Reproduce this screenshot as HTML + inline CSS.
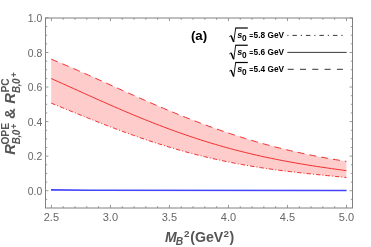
<!DOCTYPE html><html><head><meta charset="utf-8"><style>
html,body{margin:0;padding:0;background:#fff}svg{display:block;will-change:transform}
text{font-family:"Liberation Sans",sans-serif}
</style></head><body>
<svg width="371" height="247" viewBox="0 0 371 247">
<rect width="371" height="247" fill="#fff"/>
<path d="M51.2,59.15 L54.9,60.69 L58.7,62.24 L62.4,63.81 L66.1,65.40 L69.9,67.00 L73.6,68.62 L77.4,70.25 L81.1,71.89 L84.8,73.54 L88.6,75.20 L92.3,76.86 L96.0,78.53 L99.8,80.21 L103.5,81.88 L107.3,83.56 L111.0,85.24 L114.7,86.92 L118.5,88.60 L122.2,90.27 L125.9,91.94 L129.7,93.61 L133.4,95.27 L137.1,96.92 L140.9,98.57 L144.6,100.21 L148.4,101.83 L152.1,103.45 L155.8,105.06 L159.6,106.65 L163.3,108.23 L167.0,109.80 L170.8,111.35 L174.5,112.89 L178.2,114.42 L182.0,115.92 L185.7,117.41 L189.5,118.88 L193.2,120.34 L196.9,121.77 L200.7,123.19 L204.4,124.59 L208.1,125.96 L211.9,127.32 L215.6,128.66 L219.4,129.97 L223.1,131.26 L226.8,132.53 L230.6,133.78 L234.3,135.01 L238.0,136.22 L241.8,137.40 L245.5,138.56 L249.2,139.69 L253.0,140.81 L256.7,141.90 L260.5,142.96 L264.2,144.01 L267.9,145.03 L271.7,146.02 L275.4,147.00 L279.1,147.95 L282.9,148.87 L286.6,149.78 L290.3,150.66 L294.1,151.52 L297.8,152.36 L301.6,153.17 L305.3,153.97 L309.0,154.74 L312.8,155.49 L316.5,156.23 L320.2,156.94 L324.0,157.63 L327.7,158.30 L331.5,158.95 L335.2,159.59 L338.9,160.20 L342.7,160.80 L346.4,161.39 L346.4,177.52 L342.7,177.14 L338.9,176.76 L335.2,176.38 L331.5,176.01 L327.7,175.64 L324.0,175.26 L320.2,174.88 L316.5,174.50 L312.8,174.12 L309.0,173.72 L305.3,173.33 L301.6,172.92 L297.8,172.50 L294.1,172.07 L290.3,171.63 L286.6,171.18 L282.9,170.71 L279.1,170.23 L275.4,169.74 L271.7,169.23 L267.9,168.70 L264.2,168.16 L260.5,167.59 L256.7,167.01 L253.0,166.41 L249.2,165.79 L245.5,165.15 L241.8,164.49 L238.0,163.81 L234.3,163.10 L230.6,162.37 L226.8,161.62 L223.1,160.85 L219.4,160.06 L215.6,159.24 L211.9,158.40 L208.1,157.53 L204.4,156.64 L200.7,155.73 L196.9,154.79 L193.2,153.83 L189.5,152.84 L185.7,151.83 L182.0,150.80 L178.2,149.74 L174.5,148.66 L170.8,147.56 L167.0,146.43 L163.3,145.28 L159.6,144.11 L155.8,142.92 L152.1,141.70 L148.4,140.46 L144.6,139.20 L140.9,137.93 L137.1,136.63 L133.4,135.31 L129.7,133.97 L125.9,132.62 L122.2,131.25 L118.5,129.86 L114.7,128.46 L111.0,127.04 L107.3,125.61 L103.5,124.16 L99.8,122.70 L96.0,121.23 L92.3,119.75 L88.6,118.27 L84.8,116.77 L81.1,115.26 L77.4,113.75 L73.6,112.24 L69.9,110.72 L66.1,109.20 L62.4,107.67 L58.7,106.15 L54.9,104.63 L51.2,103.11Z" fill="#ffcccc" stroke="none"/>
<path d="M51.2,59.15 L54.9,60.69 L58.7,62.24 L62.4,63.81 L66.1,65.40 L69.9,67.00 L73.6,68.62 L77.4,70.25 L81.1,71.89 L84.8,73.54 L88.6,75.20 L92.3,76.86 L96.0,78.53 L99.8,80.21 L103.5,81.88 L107.3,83.56 L111.0,85.24 L114.7,86.92 L118.5,88.60 L122.2,90.27 L125.9,91.94 L129.7,93.61 L133.4,95.27 L137.1,96.92 L140.9,98.57 L144.6,100.21 L148.4,101.83 L152.1,103.45 L155.8,105.06 L159.6,106.65 L163.3,108.23 L167.0,109.80 L170.8,111.35 L174.5,112.89 L178.2,114.42 L182.0,115.92 L185.7,117.41 L189.5,118.88 L193.2,120.34 L196.9,121.77 L200.7,123.19 L204.4,124.59 L208.1,125.96 L211.9,127.32 L215.6,128.66 L219.4,129.97 L223.1,131.26 L226.8,132.53 L230.6,133.78 L234.3,135.01 L238.0,136.22 L241.8,137.40 L245.5,138.56 L249.2,139.69 L253.0,140.81 L256.7,141.90 L260.5,142.96 L264.2,144.01 L267.9,145.03 L271.7,146.02 L275.4,147.00 L279.1,147.95 L282.9,148.87 L286.6,149.78 L290.3,150.66 L294.1,151.52 L297.8,152.36 L301.6,153.17 L305.3,153.97 L309.0,154.74 L312.8,155.49 L316.5,156.23 L320.2,156.94 L324.0,157.63 L327.7,158.30 L331.5,158.95 L335.2,159.59 L338.9,160.20 L342.7,160.80 L346.4,161.39" fill="none" stroke="#f03030" stroke-width="1" stroke-dasharray="7,5"/>
<path d="M51.2,103.11 L54.9,104.63 L58.7,106.15 L62.4,107.67 L66.1,109.20 L69.9,110.72 L73.6,112.24 L77.4,113.75 L81.1,115.26 L84.8,116.77 L88.6,118.27 L92.3,119.75 L96.0,121.23 L99.8,122.70 L103.5,124.16 L107.3,125.61 L111.0,127.04 L114.7,128.46 L118.5,129.86 L122.2,131.25 L125.9,132.62 L129.7,133.97 L133.4,135.31 L137.1,136.63 L140.9,137.93 L144.6,139.20 L148.4,140.46 L152.1,141.70 L155.8,142.92 L159.6,144.11 L163.3,145.28 L167.0,146.43 L170.8,147.56 L174.5,148.66 L178.2,149.74 L182.0,150.80 L185.7,151.83 L189.5,152.84 L193.2,153.83 L196.9,154.79 L200.7,155.73 L204.4,156.64 L208.1,157.53 L211.9,158.40 L215.6,159.24 L219.4,160.06 L223.1,160.85 L226.8,161.62 L230.6,162.37 L234.3,163.10 L238.0,163.81 L241.8,164.49 L245.5,165.15 L249.2,165.79 L253.0,166.41 L256.7,167.01 L260.5,167.59 L264.2,168.16 L267.9,168.70 L271.7,169.23 L275.4,169.74 L279.1,170.23 L282.9,170.71 L286.6,171.18 L290.3,171.63 L294.1,172.07 L297.8,172.50 L301.6,172.92 L305.3,173.33 L309.0,173.72 L312.8,174.12 L316.5,174.50 L320.2,174.88 L324.0,175.26 L327.7,175.64 L331.5,176.01 L335.2,176.38 L338.9,176.76 L342.7,177.14 L346.4,177.52" fill="none" stroke="#f03030" stroke-width="1" stroke-dasharray="4.5,2,1,2"/>
<path d="M51.2,78.55 L54.9,80.21 L58.7,81.88 L62.4,83.56 L66.1,85.24 L69.9,86.93 L73.6,88.62 L77.4,90.30 L81.1,91.99 L84.8,93.68 L88.6,95.36 L92.3,97.03 L96.0,98.71 L99.8,100.37 L103.5,102.03 L107.3,103.68 L111.0,105.32 L114.7,106.95 L118.5,108.56 L122.2,110.17 L125.9,111.76 L129.7,113.34 L133.4,114.91 L137.1,116.45 L140.9,117.99 L144.6,119.50 L148.4,121.00 L152.1,122.48 L155.8,123.95 L159.6,125.39 L163.3,126.81 L167.0,128.22 L170.8,129.60 L174.5,130.96 L178.2,132.30 L182.0,133.62 L185.7,134.92 L189.5,136.19 L193.2,137.44 L196.9,138.67 L200.7,139.88 L204.4,141.06 L208.1,142.22 L211.9,143.36 L215.6,144.47 L219.4,145.56 L223.1,146.63 L226.8,147.67 L230.6,148.69 L234.3,149.69 L238.0,150.66 L241.8,151.61 L245.5,152.54 L249.2,153.45 L253.0,154.33 L256.7,155.19 L260.5,156.03 L264.2,156.85 L267.9,157.65 L271.7,158.43 L275.4,159.19 L279.1,159.93 L282.9,160.65 L286.6,161.35 L290.3,162.03 L294.1,162.70 L297.8,163.35 L301.6,163.98 L305.3,164.60 L309.0,165.21 L312.8,165.80 L316.5,166.38 L320.2,166.95 L324.0,167.51 L327.7,168.05 L331.5,168.59 L335.2,169.12 L338.9,169.64 L342.7,170.16 L346.4,170.67" fill="none" stroke="#f03030" stroke-width="1"/>
<path d="M51,189.9 L90,190.3 L346.6,190.5" fill="none" stroke="#4444fa" stroke-width="1.6"/>
<rect x="45.5" y="18.0" width="307.0" height="190.0" fill="none" stroke="#808080" stroke-width="1"/>
<g stroke="#808080" stroke-width="0.8" fill="none"><path d="M51.40,208.0 v-3.1 M51.40,18.0 v3.1"/><path d="M63.20,208.0 v-1.8 M63.20,18.0 v1.8"/><path d="M75.01,208.0 v-1.8 M75.01,18.0 v1.8"/><path d="M86.81,208.0 v-1.8 M86.81,18.0 v1.8"/><path d="M98.62,208.0 v-1.8 M98.62,18.0 v1.8"/><path d="M110.42,208.0 v-3.1 M110.42,18.0 v3.1"/><path d="M122.22,208.0 v-1.8 M122.22,18.0 v1.8"/><path d="M134.03,208.0 v-1.8 M134.03,18.0 v1.8"/><path d="M145.83,208.0 v-1.8 M145.83,18.0 v1.8"/><path d="M157.64,208.0 v-1.8 M157.64,18.0 v1.8"/><path d="M169.44,208.0 v-3.1 M169.44,18.0 v3.1"/><path d="M181.24,208.0 v-1.8 M181.24,18.0 v1.8"/><path d="M193.05,208.0 v-1.8 M193.05,18.0 v1.8"/><path d="M204.85,208.0 v-1.8 M204.85,18.0 v1.8"/><path d="M216.66,208.0 v-1.8 M216.66,18.0 v1.8"/><path d="M228.46,208.0 v-3.1 M228.46,18.0 v3.1"/><path d="M240.26,208.0 v-1.8 M240.26,18.0 v1.8"/><path d="M252.07,208.0 v-1.8 M252.07,18.0 v1.8"/><path d="M263.87,208.0 v-1.8 M263.87,18.0 v1.8"/><path d="M275.68,208.0 v-1.8 M275.68,18.0 v1.8"/><path d="M287.48,208.0 v-3.1 M287.48,18.0 v3.1"/><path d="M299.28,208.0 v-1.8 M299.28,18.0 v1.8"/><path d="M311.09,208.0 v-1.8 M311.09,18.0 v1.8"/><path d="M322.89,208.0 v-1.8 M322.89,18.0 v1.8"/><path d="M334.70,208.0 v-1.8 M334.70,18.0 v1.8"/><path d="M346.50,208.0 v-3.1 M346.50,18.0 v3.1"/><path d="M45.5,199.34 h1.7 M352.5,199.34 h-1.7"/><path d="M45.5,190.70 h2.9 M352.5,190.70 h-2.9"/><path d="M45.5,182.06 h1.7 M352.5,182.06 h-1.7"/><path d="M45.5,173.42 h1.7 M352.5,173.42 h-1.7"/><path d="M45.5,164.79 h1.7 M352.5,164.79 h-1.7"/><path d="M45.5,156.15 h2.9 M352.5,156.15 h-2.9"/><path d="M45.5,147.51 h1.7 M352.5,147.51 h-1.7"/><path d="M45.5,138.88 h1.7 M352.5,138.88 h-1.7"/><path d="M45.5,130.24 h1.7 M352.5,130.24 h-1.7"/><path d="M45.5,121.60 h2.9 M352.5,121.60 h-2.9"/><path d="M45.5,112.96 h1.7 M352.5,112.96 h-1.7"/><path d="M45.5,104.33 h1.7 M352.5,104.33 h-1.7"/><path d="M45.5,95.69 h1.7 M352.5,95.69 h-1.7"/><path d="M45.5,87.05 h2.9 M352.5,87.05 h-2.9"/><path d="M45.5,78.41 h1.7 M352.5,78.41 h-1.7"/><path d="M45.5,69.77 h1.7 M352.5,69.77 h-1.7"/><path d="M45.5,61.14 h1.7 M352.5,61.14 h-1.7"/><path d="M45.5,52.50 h2.9 M352.5,52.50 h-2.9"/><path d="M45.5,43.86 h1.7 M352.5,43.86 h-1.7"/><path d="M45.5,35.22 h1.7 M352.5,35.22 h-1.7"/><path d="M45.5,26.59 h1.7 M352.5,26.59 h-1.7"/><path d="M45.5,17.95 h2.9 M352.5,17.95 h-2.9"/></g>
<g font-size="10.4" fill="#666"><text font-size="11" x="51.4" y="221" text-anchor="middle">2.5</text><text font-size="11" x="110.4" y="221" text-anchor="middle">3.0</text><text font-size="11" x="169.4" y="221" text-anchor="middle">3.5</text><text font-size="11" x="228.5" y="221" text-anchor="middle">4.0</text><text font-size="11" x="287.5" y="221" text-anchor="middle">4.5</text><text font-size="11" x="346.5" y="221" text-anchor="middle">5.0</text><text x="42.3" y="194.7" text-anchor="end">0.0</text><text x="42.3" y="160.1" text-anchor="end">0.2</text><text x="42.3" y="125.6" text-anchor="end">0.4</text><text x="42.3" y="91.0" text-anchor="end">0.6</text><text x="42.3" y="56.5" text-anchor="end">0.8</text><text x="42.3" y="21.9" text-anchor="end">1.0</text></g>
<text x="190.9" y="40.1" font-size="13.3" font-weight="bold">(a)</text>
<g transform="translate(0,37.7)"><path d="M229.2,-0.9 L231,-2.2" fill="none" stroke="#000" stroke-width="0.7"/><path d="M231,-2.2 L233.7,4.3" fill="none" stroke="#000" stroke-width="1.5"/><path d="M233.7,4.3 L235.7,-9.7" fill="none" stroke="#000" stroke-width="0.9"/><path d="M235.3,-9.7 H247.8" fill="none" stroke="#000" stroke-width="1.2"/><text x="237.3" y="0" font-size="9" font-weight="bold" font-style="italic">s</text><text x="242" y="2.8" font-size="8.3" font-weight="bold">0</text><text x="249.2" y="0" font-size="6.8" font-weight="bold">=</text><text x="253.6" y="0" font-size="8.3" font-weight="bold">5.8 GeV</text></g><g transform="translate(0,54.95)"><path d="M229.2,-0.9 L231,-2.2" fill="none" stroke="#000" stroke-width="0.7"/><path d="M231,-2.2 L233.7,4.3" fill="none" stroke="#000" stroke-width="1.5"/><path d="M233.7,4.3 L235.7,-9.7" fill="none" stroke="#000" stroke-width="0.9"/><path d="M235.3,-9.7 H247.8" fill="none" stroke="#000" stroke-width="1.2"/><text x="237.3" y="0" font-size="9" font-weight="bold" font-style="italic">s</text><text x="242" y="2.8" font-size="8.3" font-weight="bold">0</text><text x="249.2" y="0" font-size="6.8" font-weight="bold">=</text><text x="253.6" y="0" font-size="8.3" font-weight="bold">5.6 GeV</text></g><g transform="translate(0,72.2)"><path d="M229.2,-0.9 L231,-2.2" fill="none" stroke="#000" stroke-width="0.7"/><path d="M231,-2.2 L233.7,4.3" fill="none" stroke="#000" stroke-width="1.5"/><path d="M233.7,4.3 L235.7,-9.7" fill="none" stroke="#000" stroke-width="0.9"/><path d="M235.3,-9.7 H247.8" fill="none" stroke="#000" stroke-width="1.2"/><text x="237.3" y="0" font-size="9" font-weight="bold" font-style="italic">s</text><text x="242" y="2.8" font-size="8.3" font-weight="bold">0</text><text x="249.2" y="0" font-size="6.8" font-weight="bold">=</text><text x="253.6" y="0" font-size="8.3" font-weight="bold">5.4 GeV</text></g>
<path d="M287.3,35.4 H343" stroke="#222" stroke-width="0.9" stroke-dasharray="1.2,3.9,4.5,3.9"/>
<path d="M287.3,52.4 H346.7" stroke="#222" stroke-width="0.9"/>
<path d="M287.7,69.4 H344" stroke="#5a5a5a" stroke-width="1.3" stroke-dasharray="6,6.3"/>
<g transform="rotate(-90)" font-weight="bold" fill="#555">
<text x="-154.8" y="15.1" font-size="14.8" font-style="italic">R</text>
<text x="-144.6" y="8.6" font-size="10.2">OPE</text>
<text transform="translate(-144.3,20.4) scale(1,1.15)" font-size="9.9" letter-spacing="-0.45" font-style="italic">B,0</text>
<text x="-129.1" y="16.7" font-size="9.4">+</text>
<text x="-119" y="15.2" font-size="15">&amp;</text>
<text x="-103.8" y="15.1" font-size="14.8" font-style="italic">R</text>
<text x="-92.6" y="8.6" font-size="10.2">PC</text>
<text transform="translate(-93,20.4) scale(1,1.15)" font-size="9.9" letter-spacing="-0.45" font-style="italic">B,0</text>
<text x="-77.4" y="16.6" font-size="9.4">+</text>
</g>
<g font-weight="bold" fill="#555">
<text x="165" y="242.4" font-size="14" font-style="italic">M</text>
<text x="175.7" y="245.2" font-size="10.3" font-style="italic">B</text>
<text x="184" y="236.6" font-size="9.8">2</text>
<text x="190.2" y="242.4" font-size="14.2">(GeV</text>
<text x="223.6" y="236.6" font-size="9.8">2</text>
<text x="229.5" y="242.4" font-size="14.2">)</text>
</g>
</svg></body></html>
